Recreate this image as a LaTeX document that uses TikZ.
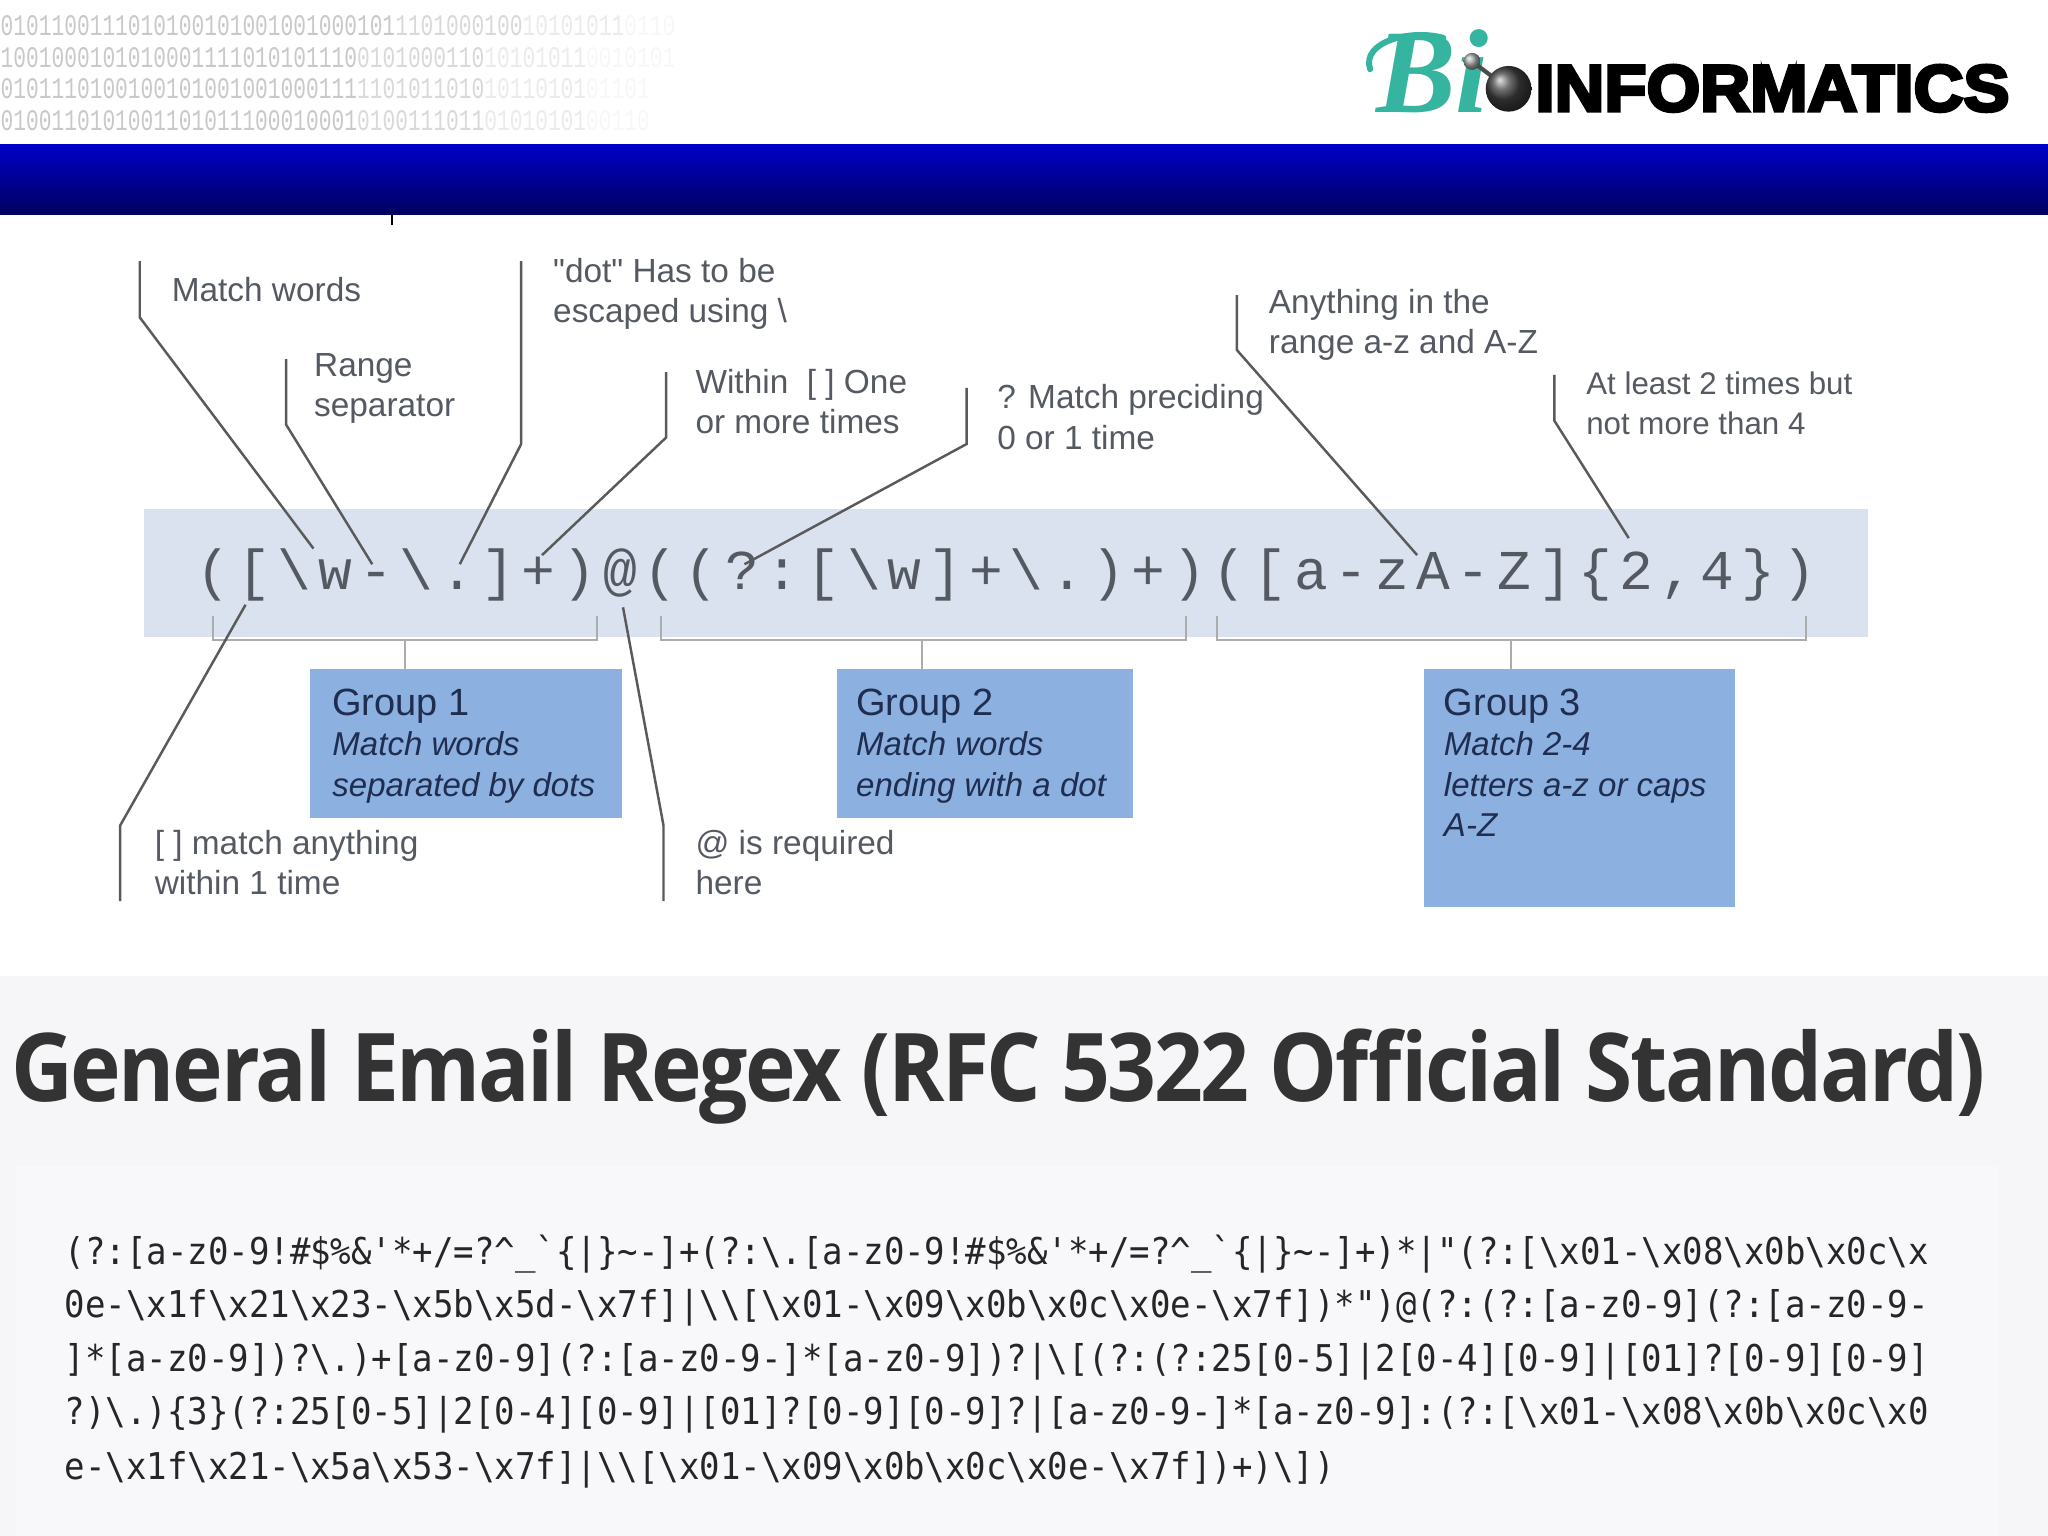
\documentclass[tikz,border=0pt]{standalone}
\usepackage{fontspec}
\usetikzlibrary{calc,positioning}
\setmainfont{Liberation Sans}
\newfontfamily\quotefont{Liberation Sans}
\newfontfamily\bitfont[FakeStretch=0.71]{Liberation Mono}
\newfontfamily\regexfont[LetterSpace=12.3]{Liberation Mono}
\newfontfamily\codefont[FakeStretch=0.922]{DejaVu Sans Mono}
\newfontfamily\titlefont[FakeStretch=0.902,LetterSpace=-2.5]{Open Sans}
\newfontfamily\logofont[FakeStretch=1.05,BoldFeatures={FakeBold=5,FakeStretch=1.05}]{Liberation Sans}
\newfontfamily\bifont{Liberation Serif}
\definecolor{bannerTop}{RGB}{0,0,200}
\definecolor{bannerBot}{RGB}{0,0,95}
\definecolor{bandBlue}{RGB}{218,226,240}
\definecolor{grpBlue}{RGB}{140,176,224}
\definecolor{grpText}{RGB}{30,45,80}
\definecolor{labGray}{RGB}{85,90,98}
\definecolor{leadGray}{RGB}{90,90,90}
\definecolor{pageGray}{RGB}{246,246,248}
\definecolor{codeGray}{RGB}{248,248,250}
\definecolor{tealBi}{RGB}{53,181,160}
\newcommand{\bs}{\char`\\}
\newcommand{\hatc}{\char`\^}
\newcommand{\tilc}{\char`\~}
\newcommand{\atext}{!\#\$\%\&'*+/=?\hatc\_`\{|\}\tilc-}
\newcommand{\bitrow}[4]{\textcolor{gray!42}{#1}\textcolor{gray!30}{#2}\textcolor{gray!16}{#3}\textcolor{gray!6}{#4}}
\tikzset{
  labeltxt/.style={anchor=north west,align=left,inner sep=0pt,text=labGray,
    font=\fontsize{9.5}{11.5}\selectfont},
  leader/.style={leadGray,line width=0.7pt},
  brace/.style={gray!65,line width=0.6pt},
  groupbox/.style={fill=grpBlue,anchor=north west,inner sep=0pt},
  grouptxt/.style={anchor=north west,align=left,inner sep=0pt,text=grpText,
    font=\fontsize{9.4}{11.5}\selectfont\itshape},
  bits/.style={anchor=west,inner sep=0pt,font=\fontsize{8.5}{10}\bitfont},
  codeline/.style={anchor=base west,inner sep=0pt,text=black!85,
    font=\fontsize{10.5}{12}\codefont},
}
\begin{document}
\begin{tikzpicture}[x=0.0130612cm,y=-0.0130612cm]
  \useasboundingbox (0,0) rectangle (1568,1176);
  \fill[white] (0,0) rectangle (1568,747);
  \fill[pageGray] (0,747) rectangle (1568,1176);
  \fill[codeGray] (12,893) rectangle (1530,1176);
  % header
  \shade[top color=bannerTop,bottom color=bannerBot] (0,111) rectangle (1568,164);
  \draw[black,line width=0.4pt] (300,164) -- (300,172);
  \node[bits] (bitsA) at (0,20) {\bitrow{0101100111010100101001001000101}{1101000100}{10101011}{0110}};
  \node[bits] (bitsB) at (0,44) {\bitrow{1001000101010001111010101110}{0101000110}{10101011}{0010101}};
  \node[bits] (bitsC) at (0,68) {\bitrow{0101110100100101001001000111}{1101011010}{10110101}{01101}};
  \node[bits] (bitsD) at (0,92) {\bitrow{0100110101001101011100010001}{0100111011}{01010101}{00110}};
  % logo
  \node[anchor=base west,inner sep=0pt,text=tealBi,font=\fontsize{34}{40}\bifont\bfseries\itshape] (logoBi) at (1053,86) {Bi};
  \draw[tealBi,line width=1.7pt,line cap=round] (1049,53) .. controls (1042,32) and (1080,22) .. (1105,29);
  \draw[gray!60!black,line width=1.2pt] (1127,47) -- (1155,68);
  \shade[ball color=gray!70] (1127,47) circle (6.5);
  \shade[ball color=gray!50!black] (1155,68) circle (17.5);
  \node[anchor=base west,inner sep=0pt,font=\fontsize{18.7}{20}\logofont\bfseries] (logoTxt) at (1175,85) {INFORMATICS};
  % regex band
  \fill[bandBlue] (110,390) rectangle (1430,488);
  \node[anchor=base west,inner sep=0pt,text=labGray,font=\fontsize{16}{20}\regexfont] (regex) at (150,451)
       {([\bs w-\bs .]+)@((?:[\bs w]+\bs .)+)([a-zA-Z]\{2,4\})};
  % group boxes under the band
  \node[groupbox,minimum width=3.12cm,minimum height=1.49cm] (grpA) at (237,512) {};
  \node[groupbox,minimum width=2.965cm,minimum height=1.49cm] (grpB) at (640,512) {};
  \node[groupbox,minimum width=3.11cm,minimum height=2.38cm] (grpC) at (1090,512) {};
  \node[grouptxt] (grpAtxt) at (254,527) {{\upshape\fontsize{10.8}{11.5}\selectfont Group 1}\\Match words\\separated by dots};
  \node[grouptxt] (grpBtxt) at (655,527) {{\upshape\fontsize{10.8}{11.5}\selectfont Group 2}\\Match words\\ending with a dot};
  \node[grouptxt] (grpCtxt) at (1105,527) {{\upshape\fontsize{10.8}{11.5}\selectfont Group 3}\\Match 2-4\\letters a-z or caps\\A-Z};
  % braces
  \coordinate (bkA) at (310,490);
  \coordinate (bkB) at (706,490);
  \coordinate (bkC) at (1157,490);
  \draw[brace] (163,472) |- (bkA) -| (457,472);
  \draw[brace] (506,472) |- (bkB) -| (908,472);
  \draw[brace] (932,472) |- (bkC) -| (1383,472);
  \draw[brace] (bkA) -- (bkA |- grpA.north);
  \draw[brace] (bkB) -- (bkB |- grpB.north);
  \draw[brace] (bkC) -- (bkC |- grpC.north);
  % labels
  \node[labeltxt] (labWord) at (131,212) {Match words};
  \node[labeltxt] (labRange) at (240,270) {Range\\separator};
  \node[labeltxt] (labDot) at (423,197) {{\quotefont"dot"} Has to be\\escaped using \bs};
  \node[labeltxt] (labPlus) at (532,282) {Within\ \ [ ] One\\or more times};
  \node[labeltxt] (labOpt) at (763,294) {? Match preciding\\0 or 1 time};
  \node[labeltxt] (labRng) at (971,221) {Anything in the\\range a-z and A-Z};
  \node[labeltxt,font=\fontsize{8.9}{11.5}\selectfont] (labTimes) at (1214,284) {At least 2 times but\\not more than 4};
  \node[labeltxt] (labSet) at (118,635) {[ ] match anything\\within 1 time};
  \node[labeltxt] (labAt) at (532,635) {@ is required\\here};
  % leaders: free end, knee, point on the regex
  \foreach \ld/\ax/\ay/\kx/\ky/\ex/\ey in {
      word/107/200/107/243/240/420, range/219/275/219/325/285/432,
      dot/399/200/399/340/352/432, plus/510/285/510/335/415/425,
      opt/740/297/740/340/570/432, rng/947/226/947/268/1085/425,
      times/1190/287/1190/322/1247/412, set/92/690/92/632/188/463,
      at/508/690/508/632/477/465}{
    \coordinate (\ld A) at (\ax,\ay);
    \coordinate (\ld K) at (\kx,\ky);
    \coordinate (\ld E) at (\ex,\ey);
    \draw[leader] (\ld A) -- (\ld K) -- (\ld E);
  }
  % lower part
  \node[anchor=base west,inner sep=0pt,text=black!80,font=\fontsize{27}{30}\titlefont\bfseries] (title) at (8,843)
       {General Email Regex (RFC 5322 Official Standard)};
  \node[codeline] (lineA) at (49,968) {(?:[a-z0-9\atext]+(?:\bs .[a-z0-9\atext]+)*|"(?:[\bs x01-\bs x08\bs x0b\bs x0c\bs x};
  \node[codeline] (lineB) at (49,1009) {0e-\bs x1f\bs x21\bs x23-\bs x5b\bs x5d-\bs x7f]|\bs\bs[\bs x01-\bs x09\bs x0b\bs x0c\bs x0e-\bs x7f])*")@(?:(?:[a-z0-9](?:[a-z0-9-};
  \node[codeline] (lineC) at (49,1050) {]*[a-z0-9])?\bs .)+[a-z0-9](?:[a-z0-9-]*[a-z0-9])?|\bs[(?:(?:25[0-5]|2[0-4][0-9]|[01]?[0-9][0-9]};
  \node[codeline] (lineD) at (49,1091) {?)\bs .)\{3\}(?:25[0-5]|2[0-4][0-9]|[01]?[0-9][0-9]?|[a-z0-9-]*[a-z0-9]:(?:[\bs x01-\bs x08\bs x0b\bs x0c\bs x0};
  \node[codeline] (lineE) at (49,1133) {e-\bs x1f\bs x21-\bs x5a\bs x53-\bs x7f]|\bs\bs[\bs x01-\bs x09\bs x0b\bs x0c\bs x0e-\bs x7f])+)\bs])};
\end{tikzpicture}
\end{document}
